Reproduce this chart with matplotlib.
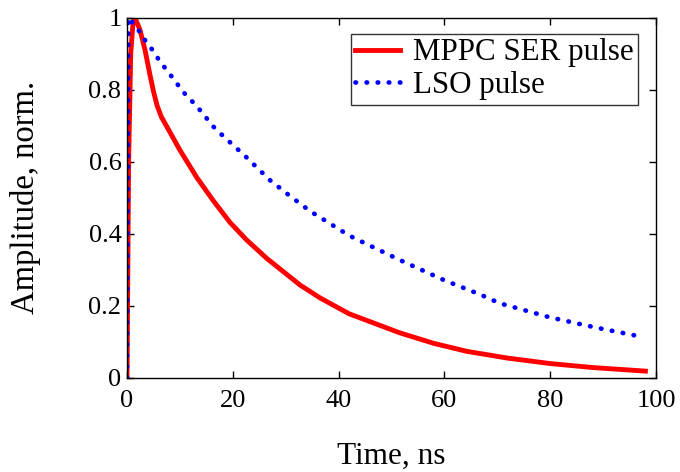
import matplotlib
matplotlib.use("Agg")
import matplotlib.pyplot as plt

plt.rcParams["font.family"] = ["Liberation Serif", "DejaVu Serif"]

# values
t_mppc = [0, 0.3, 0.7, 1.1, 1.5, 2.46, 3.4, 4.35, 5.0, 5.7, 6.5, 8.0, 10.0,
          13.2, 16.3, 19.5, 22.6, 26.4, 32.7, 36.5, 42.0, 51.6, 58.0, 64.2,
          72.0, 80.0, 88.0, 98.0]
a_mppc = [0, 0.6, 0.9, 0.98, 1.0, 0.965, 0.91, 0.84, 0.795, 0.755, 0.724,
          0.685, 0.632, 0.556, 0.492, 0.431, 0.383, 0.332, 0.258, 0.222,
          0.178, 0.125, 0.096, 0.074, 0.055, 0.040, 0.029, 0.019]

t_lso = [0, 0.25, 1.95, 3.1, 4.8, 6.05, 7.5, 9.1, 10.45, 11.9, 13.4, 14.7,
         16.2, 17.6, 22.3, 27.0, 30.8, 34.6, 42.0, 51.6, 60.0, 66.7, 70.5,
         80.0, 88.6, 97.7]
a_lso = [0, 1.0, 0.97, 0.943, 0.91, 0.882, 0.854, 0.824, 0.796, 0.774, 0.75,
         0.727, 0.699, 0.679, 0.616, 0.549, 0.505, 0.463, 0.395, 0.327, 0.271,
         0.232, 0.207, 0.168, 0.14, 0.113]

fig = plt.figure(figsize=(6.8, 4.72), dpi=100)
ax = fig.add_axes([0.1868, 0.1992, 0.7779, 0.7637])

ax.plot(t_mppc, a_mppc, color="red", lw=3.5, label="MPPC SER pulse")
ax.plot(t_lso, a_lso, color="blue", lw=3.4, linestyle=(0, (0.1, 2.25)),
        dash_capstyle="round", label="LSO pulse")

ax.set_xlim(0, 100)
ax.set_ylim(0, 1)
ax.set_xticks([0, 20, 40, 60, 80, 100])
ax.set_yticks([0, 0.2, 0.4, 0.6, 0.8, 1])
ax.set_yticklabels(["0", "0.2", "0.4", "0.6", "0.8", "1"])
ax.tick_params(direction="in", top=True, right=True, length=5, width=1,
               labelsize=19)
ax.tick_params(axis="x", pad=9)
ax.tick_params(axis="y", pad=4)
for s in ax.spines.values():
    s.set_linewidth(1)

ax.set_xlabel("Time, ns", fontsize=22.5)
ax.set_ylabel("Amplitude, norm.", fontsize=23.5)
ax.xaxis.set_label_coords(0.5, -0.176)
ax.yaxis.set_label_coords(-0.162, 0.5)

leg = ax.legend(loc="upper right", bbox_to_anchor=(0.966, 0.955), fontsize=22.3,
                frameon=True, fancybox=False, edgecolor="black",
                handlelength=1.45, handletextpad=0.4, borderpad=0.15,
                labelspacing=0.12, borderaxespad=0)
leg.get_frame().set_linewidth(1)

fig.savefig("out.png", dpi=100)
